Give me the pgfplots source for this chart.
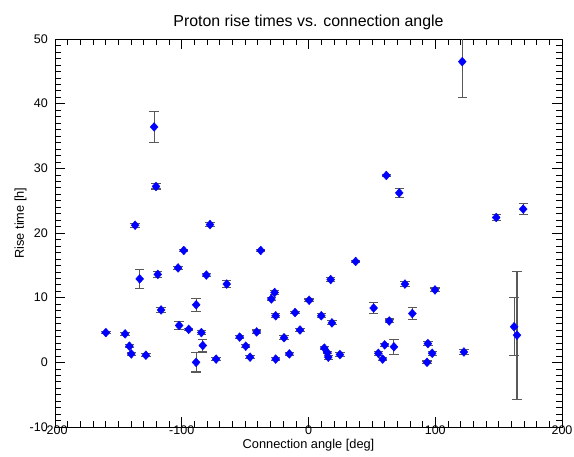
\documentclass[border=0pt]{standalone}
\usepackage{fontspec}
\setmainfont{Liberation Sans}
\usepackage{pgfplots}
\pgfplotsset{compat=1.18}
\usepackage{pgfplotstable}
\pgfplotstableread{
x y e
-159.9 4.6 0.2
-144.7 4.4 0.2
-141.3 2.5 0.2
-139.8 1.3 0.2
-136.8 21.2 0.3
-133.2 12.9 1.45
-128.3 1.1 0.2
-121.8 36.4 2.4
-120.3 27.2 0.4
-118.9 13.6 0.5
-116.3 8.1 0.4
-102.9 14.6 0.2
-102.1 5.7 0.6
-98.4 17.3 0.2
-94.5 5.1 0.2
-88.6 8.9 1.0
-88.7 0.0 1.5
-84.5 4.6 0.3
-83.4 2.6 1.0
-80.6 13.5 0.2
-77.7 21.3 0.3
-72.9 0.5 0.2
-64.5 12.1 0.55
-54.3 3.9 0.2
-49.5 2.5 0.2
-46.1 0.8 0.2
-40.9 4.7 0.3
-37.7 17.3 0.2
-29.3 9.8 0.2
-26.7 10.8 0.3
-25.9 7.2 0.3
-25.9 0.5 0.2
-19.3 3.8 0.3
-15.1 1.3 0.2
-10.6 7.7 0.2
-6.7 5.0 0.2
0.5 9.6 0.2
10.1 7.2 0.3
12.5 2.2 0.2
14.8 1.5 0.2
15.6 0.8 0.3
17.5 12.8 0.3
18.5 6.1 0.3
24.8 1.2 0.3
37.2 15.6 0.2
51.4 8.4 0.9
55.1 1.4 0.3
58.5 0.5 0.2
60.1 2.7 0.2
61.4 28.9 0.2
63.7 6.4 0.3
67.4 2.4 1.2
71.6 26.2 0.7
76.1 12.1 0.35
81.9 7.55 0.9
93.5 0.0 0.2
94.2 2.9 0.3
97.6 1.4 0.3
99.8 11.2 0.3
121.3 46.5 5.5
122.6 1.6 0.4
148.1 22.4 0.4
162.2 5.5 4.5
164.5 4.2 9.9
169.4 23.7 0.9
}\datatable
\begin{document}
\begin{tikzpicture}[x=1pt,y=1pt]
\useasboundingbox (0,0) rectangle (574,456);
\begin{axis}[
  at={(55pt,29pt)}, anchor=south west,
  scale only axis, width=507pt, height=388pt,
  xmin=-200, xmax=200, ymin=-10, ymax=50,
  xtick distance=100, ytick distance=10,
  minor x tick num=9, minor y tick num=9,
  tick align=inside,
  major tick length=10pt, minor tick length=5.5pt,
  axis line style={line width=0.8pt},
  every tick/.style={black, line width=0.6pt},
  /pgf/number format/assume math mode=true,
  ticklabel style={font=\fontsize{12.5}{14}\selectfont, inner sep=0pt},
  xticklabel style={anchor=north, yshift=1pt},
  yticklabel style={anchor=east, xshift=-7pt},
]
\addplot[only marks, mark=diamond*, mark size=4.4pt,
  mark options={blue, fill=blue, xscale=1.2},
  error bars/.cd, y dir=both, y explicit,
  error bar style={black!65, line width=1.1pt},
  error mark options={rotate=90, black!65, mark size=4.7pt, line width=1.1pt}]
  table[x=x, y=y, y error=e] {\datatable};
\end{axis}
\node[anchor=base, font=\fontsize{15.9}{18}\selectfont] at (308.5,429) {Proton rise times vs. connection angle};
\node[anchor=base, font=\fontsize{12.8}{15}\selectfont] at (308.5,8) {Connection angle [deg]};
\node[anchor=base, rotate=90, font=\fontsize{12.8}{15}\selectfont] at (24,233) {Rise time [h]};
\end{tikzpicture}
\end{document}
